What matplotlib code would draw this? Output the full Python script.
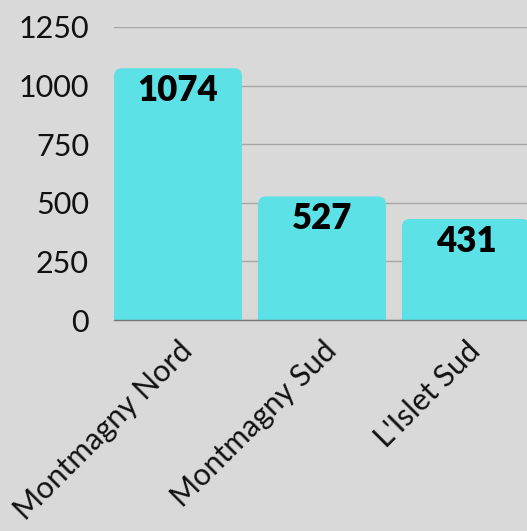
import matplotlib
matplotlib.use("Agg")
import matplotlib.pyplot as plt
from matplotlib.patches import FancyBboxPatch

categories = ["Montmagny Nord", "Montmagny Sud", "L'Islet Sud"]
values = [1074, 527, 431]
yticks = [0, 250, 500, 750, 1000, 1250]

BG = "#d9d9d9"
BAR = "#5ce1e6"

fig = plt.figure(figsize=(5.27, 5.31), dpi=100, facecolor=BG)
ax = fig.add_axes([114/527, 1-320/531, 1-114/527, (320-27)/531])
ax.set_facecolor(BG)
ax.set_xlim(-0.444, 2.424)
ax.set_ylim(0, 1250)

bars = ax.bar(range(len(categories)), values, width=0.889, color=BAR, zorder=2)
fig.canvas.draw()
px_per_x = ax.transData.transform((1, 0))[0] - ax.transData.transform((0, 0))[0]
px_per_y = ax.transData.transform((0, 1))[1] - ax.transData.transform((0, 0))[1]
r_px = 8
rx = r_px / px_per_x
ry = r_px / px_per_y
for b in bars:
    x0, w, h = b.get_x(), b.get_width(), b.get_height()
    b.set_visible(False)
    p = FancyBboxPatch((x0, -ry * 2), w, h + ry * 2,
                       boxstyle=f"round,pad=0,rounding_size={rx}",
                       mutation_aspect=ry / rx, facecolor=BAR, edgecolor="none",
                       zorder=2, clip_on=True)
    ax.add_patch(p)
    ax.text(x0 + w / 2, h - 6 / px_per_y, f"{h:.0f}", ha="center", va="top",
            fontsize=25, fontweight="heavy", family="Lato", color="black", zorder=3)

ax.set_yticks(yticks)
ax.set_yticklabels([str(t) for t in yticks], family="Lato", fontsize=22, color="#111111")
ax.set_xticks(range(len(categories)))
ax.set_xticklabels(categories, rotation=45, ha="right", rotation_mode="anchor",
                   family="Lato", fontsize=22, color="#111111")
ax.tick_params(axis="both", length=0)
ax.tick_params(axis="y", pad=18)
ax.tick_params(axis="x", pad=12)
ax.grid(axis="y", color="#a6a6a6", linewidth=1, zorder=1)
ax.set_axisbelow(True)
for s in ["top", "right", "left"]:
    ax.spines[s].set_visible(False)
ax.spines["bottom"].set_color("#777777")
ax.spines["bottom"].set_linewidth(1)
ax.spines["bottom"].set_zorder(3)

fig.savefig("out.png", dpi=100, facecolor=BG)
